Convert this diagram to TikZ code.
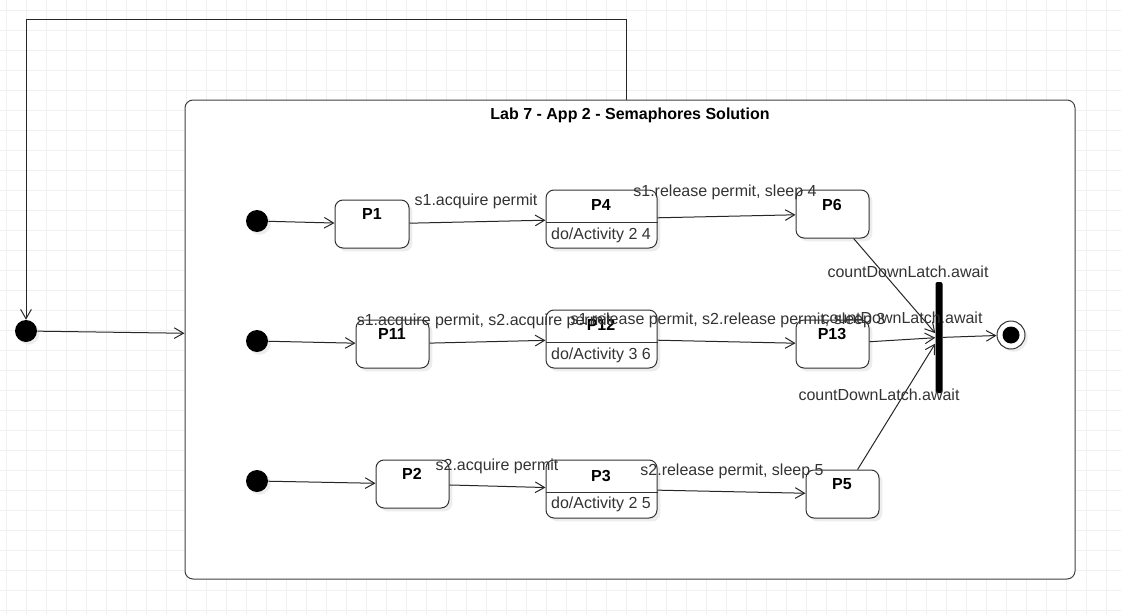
\documentclass[tikz,border=0pt]{standalone}
\usepackage{fontspec}
\setmainfont{Liberation Sans}
\usetikzlibrary{arrows.meta,fit,shadows}
\tikzset{
  gridline/.style={draw=black!6, line width=0.6pt},
  box/.style={draw=black!75, line width=0.75pt, fill=white, rounded corners=6pt, inner sep=0pt},
  state/.style={draw=black!80, line width=0.75pt, fill=white, rounded corners=6pt, inner sep=0pt,
    drop shadow={shadow xshift=2.5pt, shadow yshift=-2.5pt, fill=black!7, opacity=1}},
  init/.style={circle, fill=black, inner sep=0pt, minimum size=16.5pt,
    drop shadow={shadow xshift=2pt, shadow yshift=-2pt, fill=black!7, opacity=1}},
  final/.style={circle, draw=black!80, line width=0.75pt, fill=white, inner sep=0pt, minimum size=21pt,
    drop shadow={shadow xshift=2pt, shadow yshift=-2pt, fill=black!7, opacity=1}},
  forkbar/.style={fill=black, rounded corners=1.5pt, inner sep=0pt},
  sname/.style={font=\fontsize{12}{14}\selectfont\bfseries},
  act/.style={font=\fontsize{12}{14}\selectfont, text=black!80},
  lbl/.style={font=\fontsize{12}{14}\selectfont, text=black!80, inner sep=0pt},
  trans/.style={draw=black!85, line width=0.75pt, -{Straight Barb[length=7pt,width=8pt]}}
}
\begin{document}
\begin{tikzpicture}[x=0.75pt, y=-0.75pt]
\useasboundingbox (0,0) rectangle (1121,614);
\foreach \x in {6,26,...,1106} \draw[gridline] (\x,0) -- (\x,614);
\foreach \y in {10,30,...,610} \draw[gridline] (0,\y) -- (1121,\y);

\node[box, fit={(185,100)(1075,579)}] (lab) {};
\node[sname] at (630,115) {Lab 7 - App 2 - Semaphores Solution};

\node[init] (start) at (26,331) {};
\draw[trans] ([xshift=-3pt]lab.north) -- ++(0,-80) -| (start);
\draw[trans] (start) -- (lab);

\node[init] (i1) at (257,221) {};
\node[init] (i2) at (257,341) {};
\node[init] (i3) at (257,481) {};

\node[state, fit={(335,200)(409,248)}] (P1) {};
\node[sname] at (372,214) {P1};
\node[state, fit={(546,190)(657,248)}] (P4) {};
\draw[draw=black!80, line width=0.75pt] (P4.west |- 0,222) -- (P4.east |- 0,222);
\node[sname] at (601,205) {P4};
\node[act] at (601,235) {do/Activity 2 4};
\node[state, fit={(796,190)(869,238)}] (P6) {};
\node[sname] at (832,205) {P6};

\node[state, fit={(356,320)(429,368)}] (P11) {};
\node[sname] at (392,334) {P11};
\node[state, fit={(546,310)(657,368)}] (P12) {};
\draw[draw=black!80, line width=0.75pt] (P12.west |- 0,342) -- (P12.east |- 0,342);
\node[sname] at (601,325) {P12};
\node[act] at (601,355) {do/Activity 3 6};
\node[state, fit={(796,320)(869,368)}] (P13) {};
\node[sname] at (832,334) {P13};

\node[state, fit={(376,460)(449,508)}] (P2) {};
\node[sname] at (412,474) {P2};
\node[state, fit={(546,460)(657,518)}] (P3) {};
\draw[draw=black!80, line width=0.75pt] (P3.west |- 0,492) -- (P3.east |- 0,492);
\node[sname] at (601,476) {P3};
\node[act] at (601,504) {do/Activity 2 5};
\node[state, fit={(806,470)(879,518)}] (P5) {};
\node[sname] at (842,484) {P5};

\node[forkbar, fit={(935.5,282)(942.5,393)}] (join) {};
\node[final] (end) at (1011,335) {};
\fill (end) circle (8.5);

\draw[trans] (i1) -- (P1);
\draw[trans] (P1) -- (P4);
\draw[trans] (P4) -- (P6);
\draw[trans] (i2) -- (P11);
\draw[trans] (P11) -- (P12);
\draw[trans] (P12) -- (P13);
\draw[trans] (i3) -- (P2);
\draw[trans] (P2) -- (P3);
\draw[trans] (P3) -- (P5);
\draw[trans] (P6) -- (join);
\draw[trans] (P13) -- (join);
\draw[trans] (P5) -- (join);
\draw[trans] (join) -- (end);

\node[lbl] at (476,201) {s1.acquire permit};
\node[lbl] at (725,192) {s1.release permit, sleep 4};
\node[lbl] at (484,321) {s1.acquire permit, s2.acquire permit};
\node[lbl] at (728,320) {s1.release permit, s2.release permit, sleep 3};
\node[lbl] at (497,466) {s2.acquire permit};
\node[lbl] at (732,471) {s2.release permit, sleep 5};
\node[lbl] at (908,272) {countDownLatch.await};
\node[lbl] at (902,318) {countDownLatch.await};
\node[lbl] at (879,395) {countDownLatch.await};
\end{tikzpicture}
\end{document}
